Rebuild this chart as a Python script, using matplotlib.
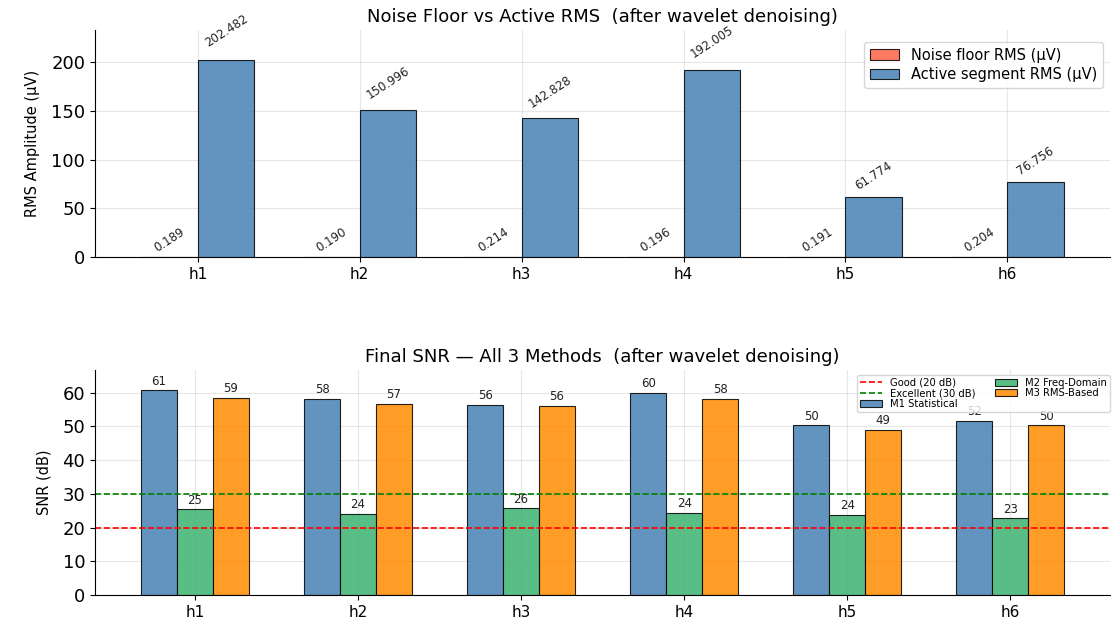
import matplotlib
matplotlib.use("Agg")
import matplotlib.pyplot as plt
from matplotlib.ticker import MultipleLocator
import numpy as np

channels = ["h1", "h2", "h3", "h4", "h5", "h6"]
noise_rms = [0.189, 0.190, 0.214, 0.196, 0.191, 0.204]
active_rms = [202.482, 150.996, 142.828, 192.005, 61.774, 76.756]

snr_m1 = [60.7, 58.1, 56.4, 59.9, 50.3, 51.6]
snr_m2 = [25.4, 24.1, 25.7, 24.3, 23.8, 22.7]
snr_m3 = [58.6, 56.8, 56.2, 58.1, 49.1, 50.3]

plt.rcParams["font.family"] = ["DejaVu Sans"]

fig = plt.figure(figsize=(11.12, 6.19), dpi=100)
ax1 = fig.add_axes([0.0854, 0.5848, 0.913, 0.3667])
ax2 = fig.add_axes([0.0854, 0.0388, 0.913, 0.3635])

x = np.arange(len(channels))

# --- top panel: noise floor vs active RMS ---
w = 0.35
b_noise = ax1.bar(x - w / 2, noise_rms, w, color="tomato", alpha=0.85,
                  edgecolor="black", linewidth=0.8, label="Noise floor RMS (µV)")
b_act = ax1.bar(x + w / 2, active_rms, w, color="steelblue", alpha=0.85,
                edgecolor="black", linewidth=0.8, label="Active segment RMS (µV)")
for bars, vals in ((b_noise, noise_rms), (b_act, active_rms)):
    for r, v in zip(bars, vals):
        ax1.annotate(f"{v:.3f}", (r.get_x() + r.get_width() / 2, v * 1.04),
                     xytext=(0, 1.5), textcoords="offset points",
                     ha="center", va="bottom", rotation=33, fontsize=8.5,
                     color="#222222")
ax1.set_ylim(0, max(active_rms) * 1.15)
ax1.yaxis.set_major_locator(MultipleLocator(50))
ax1.set_xticks(x)
ax1.set_xticklabels(channels, fontsize=11)
ax1.tick_params(axis="y", labelsize=13)
ax1.set_ylabel("RMS Amplitude (µV)", fontsize=10.5, labelpad=8)
ax1.set_title("Noise Floor vs Active RMS  (after wavelet denoising)", fontsize=13)
ax1.legend(loc="upper right", fontsize=10.5, labelspacing=0.3,
           bbox_to_anchor=(1.0, 0.98))
ax1.grid(True, alpha=0.3)
ax1.set_axisbelow(True)

# --- bottom panel: SNR from the three methods ---
w2 = 0.22
b1 = ax2.bar(x - w2, snr_m1, w2, color="steelblue", alpha=0.85,
             edgecolor="black", linewidth=0.8, label="M1 Statistical")
b2 = ax2.bar(x, snr_m2, w2, color="mediumseagreen", alpha=0.85,
             edgecolor="black", linewidth=0.8, label="M2 Freq-Domain")
b3 = ax2.bar(x + w2, snr_m3, w2, color="darkorange", alpha=0.85,
             edgecolor="black", linewidth=0.8, label="M3 RMS-Based")
for bars, vals in ((b1, snr_m1), (b2, snr_m2), (b3, snr_m3)):
    for r, v in zip(bars, vals):
        ax2.annotate(f"{v:.0f}", (r.get_x() + r.get_width() / 2, v),
                     xytext=(0, 2), textcoords="offset points",
                     ha="center", va="bottom", fontsize=8.5, color="#222222")
ax2.axhline(20, color="red", linestyle="--", linewidth=1.2, label="Good (20 dB)")
ax2.axhline(30, color="green", linestyle="--", linewidth=1.2, label="Excellent (30 dB)")
ax2.set_ylim(0, max(snr_m1) * 1.1)
ax2.yaxis.set_major_locator(MultipleLocator(10))
ax2.set_xticks(x)
ax2.set_xticklabels(channels, fontsize=11)
ax2.tick_params(axis="y", labelsize=13)
ax2.set_ylabel("SNR (dB)", fontsize=10.5, labelpad=8)
ax2.set_title("Final SNR — All 3 Methods  (after wavelet denoising)", fontsize=13)
h, l = ax2.get_legend_handles_labels()
order = [l.index(s) for s in ["Good (20 dB)", "Excellent (30 dB)", "M1 Statistical",
                              "M2 Freq-Domain", "M3 RMS-Based"]]
ax2.legend([h[i] for i in order], [l[i] for i in order], loc="upper right",
           ncol=2, fontsize=7.2, labelspacing=0.05, borderpad=0.3,
           handlelength=2.2, bbox_to_anchor=(1.005, 1.0))
ax2.grid(True, alpha=0.3)
ax2.set_axisbelow(True)

for ax in (ax1, ax2):
    ax.spines["top"].set_visible(False)
    ax.spines["right"].set_visible(False)

fig.savefig("out.png", dpi=100)
